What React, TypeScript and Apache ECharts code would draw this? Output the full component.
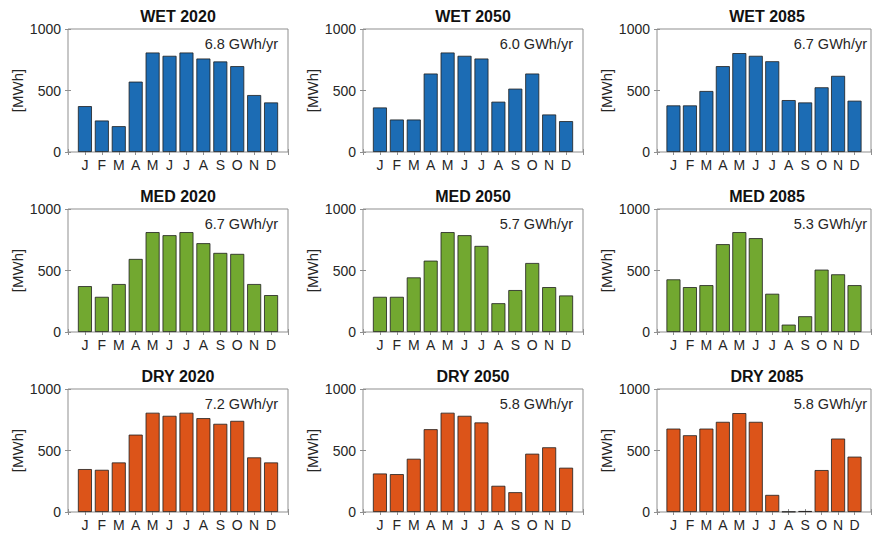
import React, { useEffect, useRef } from "react";
import * as echarts from "echarts";

const months = ["J", "F", "M", "A", "M", "J", "J", "A", "S", "O", "N", "D"];

const wet2020 = [373, 256, 210, 572, 809, 782, 809, 760, 736, 698, 463, 403];
const wet2050 = [362, 264, 264, 638, 809, 782, 760, 409, 515, 638, 305, 251];
const wet2085 = [379, 379, 496, 698, 804, 782, 738, 422, 403, 526, 619, 417];
const med2020 = [373, 286, 390, 594, 812, 787, 812, 722, 643, 635, 390, 300];
const med2050 = [286, 286, 444, 580, 812, 787, 700, 234, 341, 561, 365, 297];
const med2085 = [428, 365, 381, 714, 812, 763, 311, 60, 128, 507, 469, 381];
const dry2020 = [349, 343, 403, 629, 807, 782, 807, 763, 717, 741, 444, 403];
const dry2050 = [313, 308, 433, 673, 807, 782, 728, 213, 161, 474, 526, 360];
const dry2085 = [678, 624, 678, 733, 804, 733, 139, 3, 8, 341, 597, 450];

const panelTitles = [
  "WET 2020", "WET 2050", "WET 2085",
  "MED 2020", "MED 2050", "MED 2085",
  "DRY 2020", "DRY 2050", "DRY 2085",
];
const panelTotals = [
  "6.8 GWh/yr", "6.0 GWh/yr", "6.7 GWh/yr",
  "6.7 GWh/yr", "5.7 GWh/yr", "5.3 GWh/yr",
  "7.2 GWh/yr", "5.8 GWh/yr", "5.8 GWh/yr",
];
const panelValues = [
  wet2020, wet2050, wet2085,
  med2020, med2050, med2085,
  dry2020, dry2050, dry2085,
];
const yTicks = [0, 500, 1000];

const rowColors = ["#1c6cb4", "#72a830", "#dc5419"];
const colLeft = [68, 363, 657];
const rowTop = [29, 209, 389];
const W = 220;
const H = 123;
const FONT = "Liberation Sans, Arial, Helvetica, sans-serif";
const BOX = "#8f8f8f";
const LABEL = "#262626";

export default function App() {
  const ref = useRef<HTMLDivElement>(null);
  useEffect(() => {
    if (!ref.current) return;
    const chart = echarts.init(ref.current, null, { renderer: "svg" });
    const grid: any[] = [];
    const xAxis: any[] = [];
    const yAxis: any[] = [];
    const series: any[] = [];
    const title: any[] = [];
    const graphic: any[] = [];
    for (let i = 0; i < 9; i++) {
      const r = Math.floor(i / 3);
      const c = i % 3;
      const left = colLeft[c];
      const top = rowTop[r];
      grid.push({
        left, top, width: W, height: H,
        show: true, borderColor: BOX, borderWidth: 1, backgroundColor: "transparent",
      });
      const xBase = {
        type: "value", gridIndex: i, min: 0, max: 13, interval: 1,
        axisLine: { show: false }, splitLine: { show: false },
        axisTick: { show: true, inside: true, length: 3, lineStyle: { color: BOX } },
      };
      xAxis.push({
        ...xBase, position: "bottom",
        axisLabel: {
          show: true, margin: 6, fontSize: 14, color: LABEL, fontFamily: FONT,
          formatter: (v: number) => (v >= 1 && v <= 12 ? months[v - 1] : ""),
        },
      });
      xAxis.push({ ...xBase, position: "top", axisLabel: { show: false } });
      const yBase = {
        type: "value", gridIndex: i, min: yTicks[0], max: yTicks[yTicks.length - 1],
        interval: yTicks[1] - yTicks[0],
        axisLine: { show: false }, splitLine: { show: false },
        axisTick: { show: true, inside: true, length: 3, lineStyle: { color: BOX } },
      };
      yAxis.push({
        ...yBase, position: "left",
        axisLabel: {
          show: true, margin: 7, fontSize: 14, color: LABEL, fontFamily: FONT,
          formatter: (v: number) => String(v),
        },
        name: "[MWh]", nameLocation: "middle", nameGap: 43,
        nameTextStyle: { fontSize: 15, color: LABEL, fontFamily: FONT },
      });
      yAxis.push({ ...yBase, position: "right", axisLabel: { show: false } });
      series.push({
        type: "bar",
        xAxisIndex: 2 * i,
        yAxisIndex: 2 * i,
        barWidth: 14,
        data: panelValues[i].map((v, k) => [k + 1, v]),
        itemStyle: { color: rowColors[r], borderColor: "#1e1e1e", borderWidth: 0.8 },
      });
      title.push({
        text: panelTitles[i],
        left: left + W / 2,
        top: top - 21,
        textAlign: "center",
        textStyle: { fontSize: 16, fontWeight: "bold", color: "#111", fontFamily: FONT },
        padding: 0,
      });
      graphic.push({
        type: "text",
        x: left + W - 10,
        y: top + 15,
        style: {
          text: panelTotals[i], align: "right", verticalAlign: "middle",
          fontSize: 14.5, fill: LABEL, fontFamily: FONT,
        },
      });
    }
    chart.setOption({
      animation: false,
      backgroundColor: "#ffffff",
      grid, xAxis, yAxis, series, title, graphic,
    });
    return () => chart.dispose();
  }, []);
  return (
    <div
      ref={ref}
      style={{ position: "fixed", left: 0, top: 0, width: 874, height: 535 }}
    />
  );
}
